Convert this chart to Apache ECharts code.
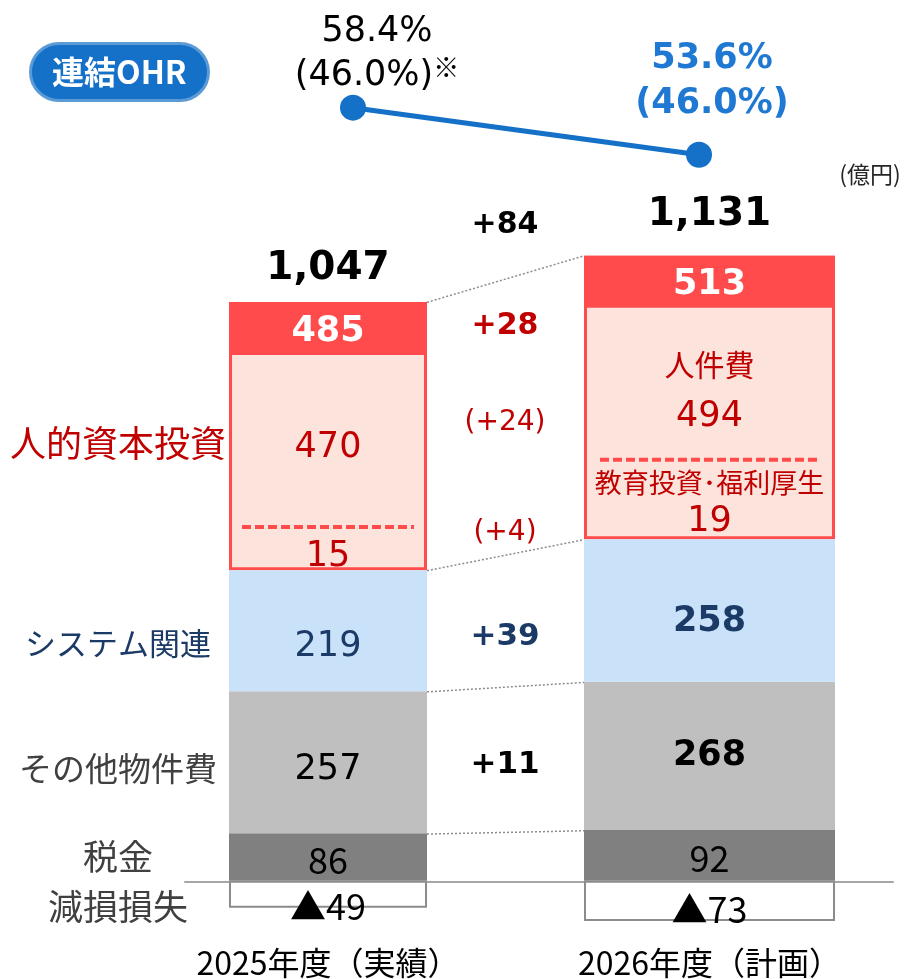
<!DOCTYPE html>
<html>
<head>
<meta charset="utf-8">
<script src="https://cdn.jsdelivr.net/npm/echarts@6/dist/echarts.min.js"></script>
<style>
  html, body { margin: 0; padding: 0; background: #fff; }
  #chart { width: 904px; height: 979px; }
</style>
</head>
<body>
<div id="chart"></div>
<script>
// data (億円, OHR in %)
const years = ['2025年度（実績）', '2026年度（計画）'];
const taxes = [86, 92];
const otherCosts = [257, 268];
const systemCosts = [219, 258];
const personnel = [470, 494];
const education = [15, 19];
const impairment = [-49, -73];
const ohr = [58.4, 53.6];
const ohrAdjusted = [46.0, 46.0];

const segmentNames = ['人的資本投資', 'システム関連', 'その他物件費', '税金', '減損損失'];
const personnelName = '人件費';
const educationName = '教育投資･福利厚生';
const ohrName = '連結OHR';
const unitName = '(億円)';

const NUM = "'DejaVu Sans', sans-serif";
const JP = "'Noto Sans CJK JP', sans-serif";
const RED = '#FF4B4B';
const PINK = '#FCE3DB';
const DARKRED = '#C00000';
const NAVY = '#1B3A66';
const BLUE = '#1570C8';

const humanCapital = personnel.map((v, i) => v + education[i]);
const belowHuman = taxes.map((v, i) => v + otherCosts[i] + systemCosts[i]);
const totals = belowHuman.map((v, i) => v + humanCapital[i]);

const signed = v => (v >= 0 ? '+' : '▲') + Math.abs(v);
const diff = arr => arr[1] - arr[0];

// inner layout of the 人的資本投資 block, px from the block top
const innerLayout = [
    { header: 53, main: 146, dash: 225, sub: 255, inset: 13, total: -33 },
    { header: 52, mainName: 109, main: 161, dash: 204, subName: 227, sub: 266, inset: 16, total: -41 }
];

let chart = echarts.init(document.getElementById('chart'));

function renderHuman(i) {
    const L = innerLayout[i];
    return function (params, api) {
        const lo = api.coord([api.value(0), api.value(1)]);
        const hi = api.coord([api.value(0), api.value(2)]);
        const w = api.size([1, 0])[0];
        const cx = lo[0], x0 = lo[0] - w / 2, y0 = hi[1], h = lo[1] - hi[1];
        const txt = (text, y, font, fill) => ({
            type: 'text',
            style: { text: text, x: cx, y: y0 + y, font: font, fill: fill, align: 'center', verticalAlign: 'middle' }
        });
        const children = [
            { type: 'rect', shape: { x: x0 + 1.5, y: y0 + 1.5, width: w - 3, height: h - 3 },
              style: { fill: PINK, stroke: RED, lineWidth: 3 } },
            { type: 'rect', shape: { x: x0, y: y0, width: w, height: L.header }, style: { fill: RED } },
            txt(String(humanCapital[i]), L.header / 2 + 3, 'bold 35px ' + NUM, '#fff'),
            txt(String(personnel[i]), L.main, '35px ' + NUM, DARKRED),
            { type: 'line', shape: { x1: x0 + L.inset, y1: y0 + L.dash, x2: x0 + w - L.inset, y2: y0 + L.dash },
              style: { stroke: RED, lineWidth: 4, lineDash: [9, 4] } },
            txt(String(education[i]), L.sub, '35px ' + NUM, DARKRED),
            txt(totals[i].toLocaleString('en-US'), L.total, 'bold 39px ' + NUM, '#000')
        ];
        if (L.mainName) children.push(txt(personnelName, L.mainName, '30px ' + JP, DARKRED));
        if (L.subName) children.push(txt(educationName, L.subName, '27px ' + JP, DARKRED));
        return { type: 'group', children: children };
    };
}

function column(i) {
    const gi = i + 1;
    const plan = i === 1;
    const base = { type: 'bar', xAxisIndex: gi, yAxisIndex: gi, stack: 'col' + i, barWidth: '100%' };
    const inside = extra => Object.assign({ show: true, position: 'inside', fontFamily: NUM, fontSize: 35, color: '#000' }, extra);
    return [
        Object.assign({}, base, {
            name: segmentNames[3], data: [taxes[i]], itemStyle: { color: '#808080' },
            label: inside({ fontFamily: JP, fontSize: 36, offset: [0, 3] })
        }),
        Object.assign({}, base, {
            name: segmentNames[2], data: [otherCosts[i]], itemStyle: { color: '#BFBFBF' },
            label: inside({ fontWeight: plan ? 'bold' : 'normal', offset: [0, plan ? 0 : 8] })
        }),
        Object.assign({}, base, {
            name: segmentNames[1], data: [systemCosts[i]], itemStyle: { color: '#C9E2FA' },
            label: inside({ color: NAVY, fontWeight: plan ? 'bold' : 'normal', offset: [0, plan ? 11 : 16] })
        }),
        Object.assign({}, base, {
            name: segmentNames[4], data: [impairment[i]],
            itemStyle: { color: '#fff', borderColor: '#8C8C8C', borderWidth: 2 },
            label: inside({ fontFamily: JP, fontSize: 36, offset: [0, plan ? 8 : 12],
                formatter: p => '▲' + Math.abs(p.value) })
        }),
        {
            type: 'custom', name: segmentNames[0], xAxisIndex: gi, yAxisIndex: gi,
            renderItem: renderHuman(i),
            data: [[0, belowHuman[i], totals[i]]]
        }
    ];
}

const valueAxis = gi => ({ gridIndex: gi, type: 'value', min: -100, max: 1400, show: false });
const yearAxis = gi => ({
    gridIndex: gi, type: 'category', data: [years[gi - 1]],
    axisLine: { show: false, onZero: false }, axisTick: { show: false },
    axisLabel: { margin: 11, fontSize: 32, color: '#000', fontFamily: JP }
});

const boundaries = [0, 1].map(i => [taxes[i], taxes[i] + otherCosts[i], belowHuman[i], totals[i]]);

const sideLabels = [
    { text: segmentNames[0], y: 443, color: DARKRED, size: 36 },
    { text: segmentNames[1], y: 643, color: NAVY, size: 31 },
    { text: segmentNames[2], y: 768, color: '#404040', size: 33 },
    { text: segmentNames[3], y: 857, color: '#404040', size: 35 },
    { text: segmentNames[4], y: 907, color: '#404040', size: 35 }
];
const deltaLabels = [
    { text: signed(diff(totals)), y: 225, color: '#000', weight: 'bold', size: 30 },
    { text: signed(diff(humanCapital)), y: 326, color: DARKRED, weight: 'bold', size: 30 },
    { text: '(' + signed(diff(personnel)) + ')', y: 423, color: DARKRED, weight: 'normal', size: 28 },
    { text: '(' + signed(diff(education)) + ')', y: 533, color: DARKRED, weight: 'normal', size: 28 },
    { text: signed(diff(systemCosts)), y: 637, color: NAVY, weight: 'bold', size: 31 },
    { text: signed(diff(otherCosts)), y: 765, color: '#000', weight: 'bold', size: 31 }
];

let option = {
    animation: false,
    title: {
        text: ohrName, left: 30, top: 43,
        backgroundColor: BLUE, borderColor: '#5B9BD5', borderWidth: 3, borderRadius: 30,
        padding: [13, 22],
        textStyle: { color: '#fff', fontSize: 32, fontWeight: 'bold', fontFamily: JP }
    },
    grid: [
        { left: 185, right: 11, top: 107, bottom: 42 },
        { left: 229, width: 198, top: 107, bottom: 42 },
        { left: 584, width: 251, top: 107, bottom: 42 },
        { left: 427, width: 157, top: 107, bottom: 42 },
        { left: 353, width: 346, top: 92, height: 98 }
    ],
    xAxis: [
        { gridIndex: 0, type: 'category', data: [''], axisLine: { lineStyle: { color: '#A6A6A6', width: 2 } },
          axisTick: { show: false }, axisLabel: { show: false } },
        yearAxis(1),
        yearAxis(2),
        { gridIndex: 3, type: 'category', data: [''], show: false },
        { gridIndex: 4, type: 'category', data: years, boundaryGap: false, show: false }
    ],
    yAxis: [
        valueAxis(0), valueAxis(1), valueAxis(2), valueAxis(3),
        { gridIndex: 4, type: 'value', min: 50, max: 60, show: false }
    ],
    series: [
        ...column(0),
        ...column(1),
        {
            // dotted connectors between the two columns
            type: 'custom', xAxisIndex: 3, yAxisIndex: 3,
            data: boundaries[0].map((v, k) => [0, v, boundaries[1][k]]),
            renderItem: function (params, api) {
                const a = api.coord([0, api.value(1)]);
                const b = api.coord([0, api.value(2)]);
                const w = api.size([1, 0])[0];
                return {
                    type: 'line',
                    shape: { x1: a[0] - w / 2, y1: a[1], x2: a[0] + w / 2, y2: b[1] },
                    style: { stroke: '#8C8C8C', lineWidth: 1.5, lineDash: [2, 2] }
                };
            }
        },
        {
            type: 'line', name: ohrName, xAxisIndex: 4, yAxisIndex: 4,
            symbol: 'circle', symbolSize: 26,
            lineStyle: { color: BLUE, width: 5 },
            itemStyle: { color: BLUE },
            data: ohr.map((v, i) => ({
                value: v,
                label: i === 0
                    ? { offset: [24, 0], distance: -3,
                        formatter: '{a|' + v.toFixed(1) + '%}\n{a|(' + ohrAdjusted[i].toFixed(1) + '%)}{n|※}' }
                    : { offset: [13, 0], distance: 15,
                        formatter: '{b|' + v.toFixed(1) + '%}\n{b|(' + ohrAdjusted[i].toFixed(1) + '%)}' }
            })),
            label: {
                show: true, position: 'top',
                rich: {
                    a: { fontFamily: NUM, fontSize: 35, color: '#000', lineHeight: 44 },
                    n: { fontFamily: JP, fontSize: 26, color: '#000', lineHeight: 44, verticalAlign: 'top' },
                    b: { fontFamily: NUM, fontSize: 35, fontWeight: 'bold', color: '#1F78D1', lineHeight: 45 }
                }
            }
        }
    ],
    graphic: [
        ...sideLabels.map(s => ({
            type: 'text', x: 118, y: s.y,
            style: { text: s.text, font: s.size + 'px ' + JP, fill: s.color, align: 'center', verticalAlign: 'middle' }
        })),
        ...deltaLabels.map(d => ({
            type: 'text', x: 505, y: d.y,
            style: { text: d.text, font: d.weight + ' ' + d.size + 'px ' + NUM, fill: d.color, align: 'center', verticalAlign: 'middle' }
        })),
        { type: 'text', x: 870, y: 174,
          style: { text: unitName, font: '23px ' + JP, fill: '#262626', align: 'center', verticalAlign: 'middle' } }
    ]
};

chart.setOption(option);
</script>
</body>
</html>
